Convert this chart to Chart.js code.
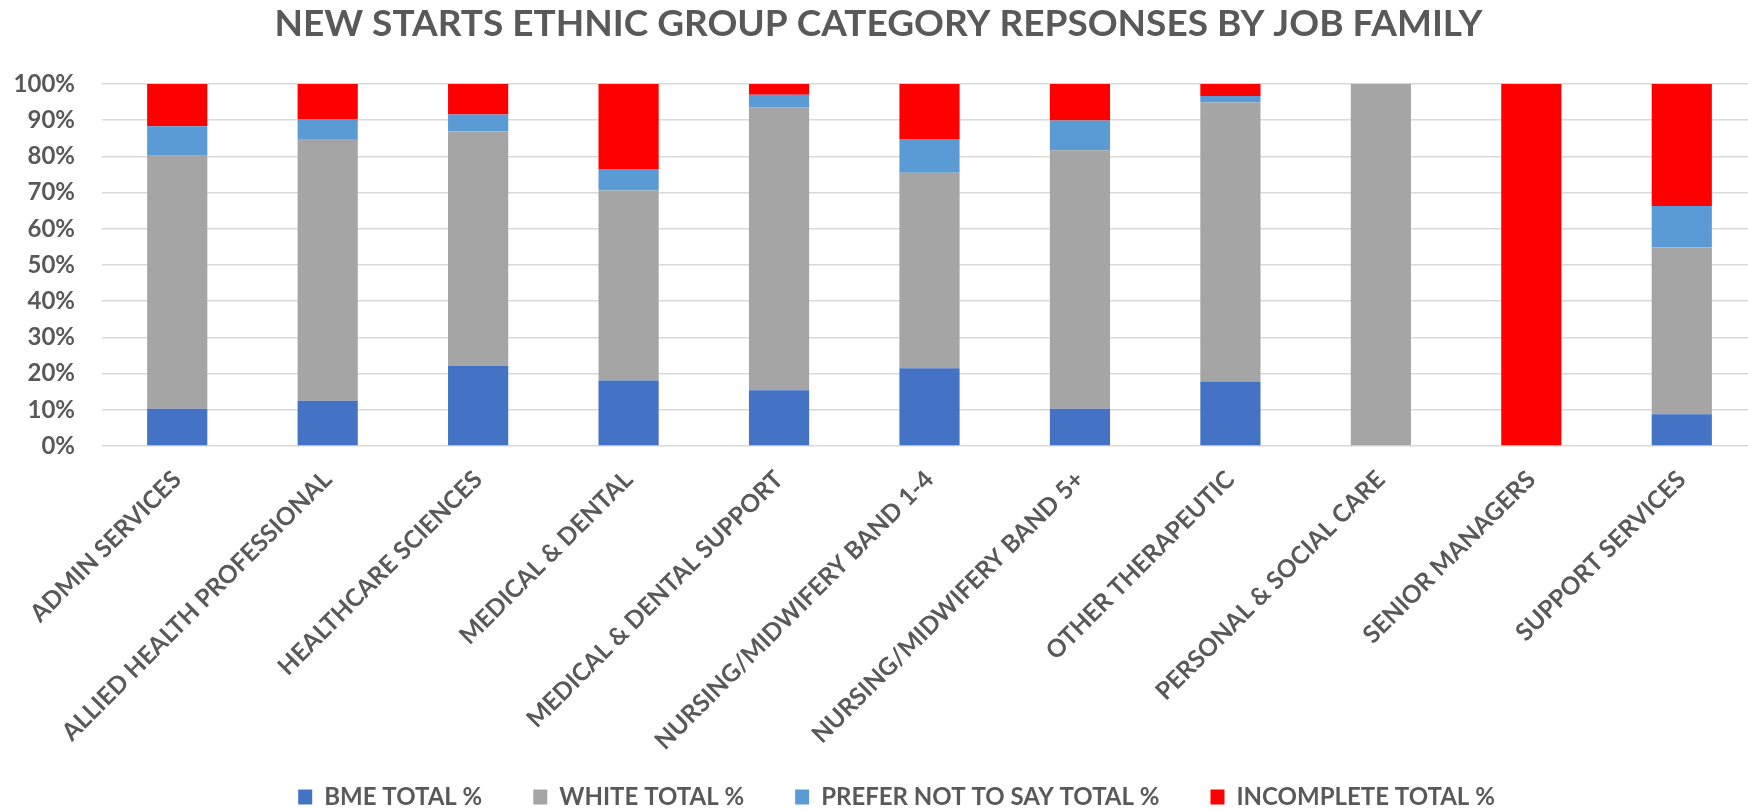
<!DOCTYPE html>
<html>
<head>
<meta charset="utf-8">
<title>New starts ethnic group by job family</title>
<script src="https://cdn.jsdelivr.net/npm/chart.js@4"></script>
<style>
  html, body { margin: 0; padding: 0; background: #fff; overflow: hidden; }
  #wrap { position: relative; width: 1760px; height: 810px; }
</style>
</head>
<body>
<div id="wrap"><canvas id="starts"></canvas></div>
<script>
// job families along the x axis
const jobFamilies = [
  "ADMIN SERVICES", "ALLIED HEALTH PROFESSIONAL", "HEALTHCARE SCIENCES",
  "MEDICAL & DENTAL", "MEDICAL & DENTAL SUPPORT", "NURSING/MIDWIFERY BAND 1-4",
  "NURSING/MIDWIFERY BAND 5+", "OTHER THERAPEUTIC", "PERSONAL & SOCIAL CARE",
  "SENIOR MANAGERS", "SUPPORT SERVICES"
]

// percentages per job family (each column adds to 100)
const bmeTotal        = [10.3, 12.5, 22.2, 18.1, 15.4, 21.5, 10.3, 17.8, 0, 0, 8.8]
const whiteTotal      = [69.9, 72.3, 64.7, 52.5, 78.2, 54.0, 71.4, 77.1, 100, 0, 46.0]
const preferNotToSay  = [8.1, 5.5, 4.7, 5.9, 3.4, 9.3, 8.2, 1.8, 0, 0, 11.5]
const incompleteTotal = [11.7, 9.7, 8.4, 23.5, 3.0, 15.2, 10.1, 3.3, 0, 100, 33.7]

const yTicks = [0, 10, 20, 30, 40, 50, 60, 70, 80, 90, 100]

const textGrey = "#595959"
const fontName = "Lato, 'Open Sans', sans-serif"

// legend row sits a bit right of centre; the long slanted category
// names are allowed to run down past the axis box
const layoutTweaks = {
  id: "layoutTweaks",
  afterLayout(chart) {
    const lg = chart.legend
    if (lg) {
      lg.left += 18
      lg.right += 18
    }
    chart.scales.x.bottom = chart.height
  }
}

const ctx = document.getElementById("starts").getContext("2d")
let startsChart = new Chart(ctx, {
  type: "bar",
  data: {
    labels: jobFamilies,
    datasets: [
      { label: "BME TOTAL %", data: bmeTotal, backgroundColor: "#4472C4" },
      { label: "WHITE TOTAL %", data: whiteTotal, backgroundColor: "#A5A5A5" },
      { label: "PREFER NOT TO SAY TOTAL %", data: preferNotToSay, backgroundColor: "#5B9BD5" },
      { label: "INCOMPLETE TOTAL %", data: incompleteTotal, backgroundColor: "#FF0000" }
    ]
  },
  plugins: [layoutTweaks],
  options: {
    responsive: true,
    maintainAspectRatio: false,
    animation: false,
    datasets: {
      bar: { categoryPercentage: 1, barPercentage: 0.4 }
    },
    layout: { padding: { left: 0, right: 3, top: 0, bottom: -9 } },
    plugins: {
      title: {
        display: true,
        text: "NEW STARTS ETHNIC GROUP CATEGORY REPSONSES BY JOB FAMILY",
        color: textGrey,
        font: { family: fontName, size: 37, weight: "bold", lineHeight: 1.2 },
        padding: { top: 2, bottom: 37.6 }
      },
      legend: {
        position: "bottom",
        labels: {
          color: textGrey,
          font: { family: fontName, size: 24, weight: "bold" },
          boxWidth: 14,
          boxHeight: 15,
          padding: 51
        }
      },
      tooltip: { enabled: false }
    },
    scales: {
      x: {
        stacked: true,
        grid: { display: false },
        border: { display: false },
        ticks: {
          color: textGrey,
          font: { family: fontName, size: 24.5, weight: "bold" },
          minRotation: 45,
          maxRotation: 45,
          autoSkip: false,
          padding: 11
        },
        afterFit(scale) { scale.height = 288 }
      },
      y: {
        stacked: true,
        min: 0,
        max: 100,
        grid: { color: "#D9D9D9", lineWidth: 1.5, drawTicks: false },
        border: { display: false },
        afterBuildTicks(scale) { scale.ticks = yTicks.map(v => ({ value: v })) },
        ticks: {
          color: textGrey,
          font: { family: fontName, size: 24, weight: "bold" },
          padding: 27,
          callback: v => v + "%"
        },
        afterFit(scale) { scale.width = 102 }
      }
    }
  }
})
</script>
</body>
</html>
